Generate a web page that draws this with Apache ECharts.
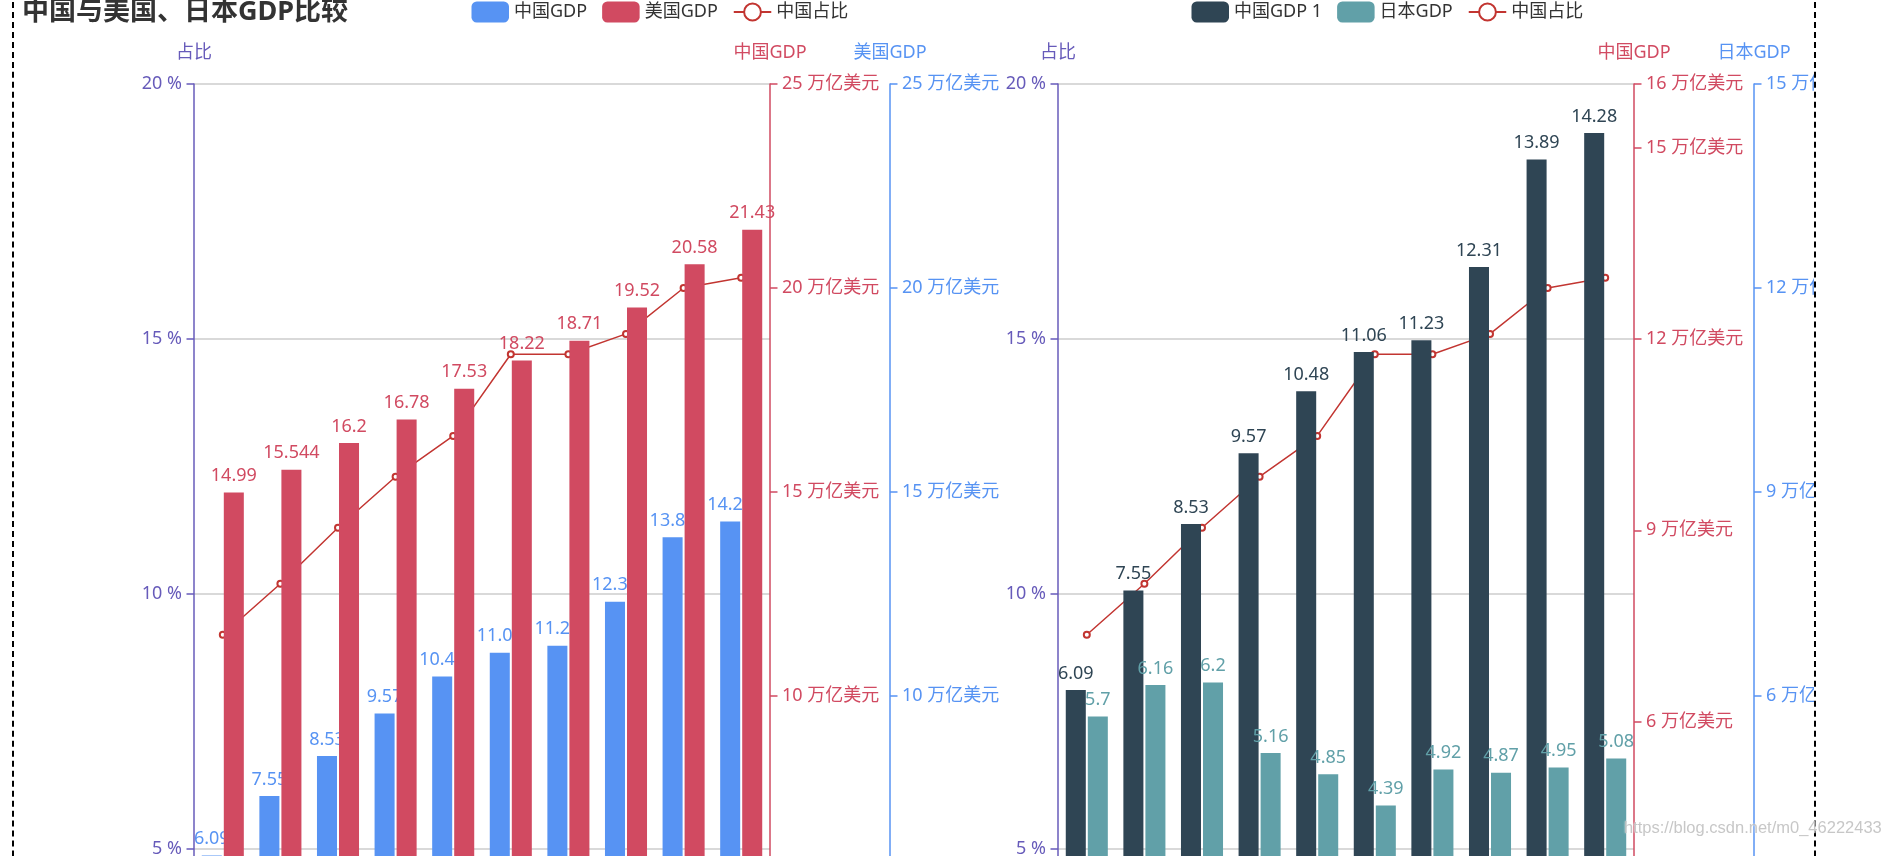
<!DOCTYPE html>
<html>
<head>
<meta charset="utf-8">
<script src="https://cdn.jsdelivr.net/npm/echarts@6/dist/echarts.min.js"></script>
<style>
html, body { margin: 0; padding: 0; width: 1883px; height: 856px; overflow: hidden; background: #fff; }
#wrap { position: absolute; left: 12px; top: -8px; border: 2px dashed #000; width: 1800px; height: 1200px; }
#main { width: 1800px; height: 1200px; }
#wm { position: absolute; left: 1624px; top: 818px; font: 16.5px "Liberation Sans", Arial, sans-serif;
      color: rgba(185,185,185,0.8); text-shadow: 0 0 2px #fff; white-space: nowrap; pointer-events: none; }
</style>
</head>
<body>
<div id="wrap"><div id="main"></div></div>
<div id="wm">https://blog.csdn.net/m0_46222433</div>
<script>
const years = ['2010', '2011', '2012', '2013', '2014', '2015', '2016', '2017', '2018', '2019'];
const chinaGDP = [6.09, 7.55, 8.53, 9.57, 10.48, 11.06, 11.23, 12.31, 13.89, 14.28];
const usaGDP = [14.99, 15.544, 16.2, 16.78, 17.53, 18.22, 18.71, 19.52, 20.58, 21.43];
const japanGDP = [5.7, 6.16, 6.2, 5.16, 4.85, 4.39, 4.92, 4.87, 4.95, 5.08];
const chinaShare = [9.2, 10.2, 11.3, 12.3, 13.1, 14.7, 14.7, 15.1, 16.0, 16.2];

const FONT = '"Noto Sans", "Noto Sans CJK SC", sans-serif';
const PURPLE = '#675bba', RED = '#d14a61', BLUE = '#5793f3';
const LINE = '#c23531', DARK = '#2f4554', TEAL = '#61a0a8';

function yAxis(c, o, fmt) {
  return Object.assign({
    type: 'value', min: 0,
    nameTextStyle: { color: c, fontSize: 18, fontFamily: FONT },
    nameGap: 22.5,
    axisLine: { show: true, lineStyle: { color: c, width: 1.5 } },
    axisTick: { show: true, length: 7.5, lineStyle: { color: c, width: 1.5 } },
    axisLabel: { color: c, fontSize: 18, margin: 12, fontFamily: FONT, formatter: fmt },
    splitLine: { show: false }
  }, o);
}

const SPLIT = { show: true, lineStyle: { color: '#ccc', width: 1.5 } };
const yAxes = [
  yAxis(PURPLE, { gridIndex: 0, name: '占比', max: 20, interval: 5, position: 'left', splitLine: SPLIT }, '{value} %'),
  yAxis(RED, { gridIndex: 0, name: '中国GDP', max: 25, interval: 5, position: 'right' }, '{value} 万亿美元'),
  yAxis(BLUE, { gridIndex: 0, name: '美国GDP', max: 25, interval: 5, position: 'right', offset: 120 }, '{value} 万亿美元'),
  yAxis(PURPLE, { gridIndex: 1, name: '占比', max: 20, interval: 5, position: 'left', splitLine: SPLIT }, '{value} %'),
  yAxis(RED, { gridIndex: 1, name: '中国GDP', max: 16, interval: 3, position: 'right' }, '{value} 万亿美元'),
  yAxis(BLUE, { gridIndex: 1, name: '日本GDP', max: 15, interval: 3, position: 'right', offset: 120 }, '{value} 万亿美元')
];

function barLabel(c) {
  return { show: true, position: 'top', distance: 7.5, color: c, fontSize: 18, fontFamily: FONT };
}
function legend(left, data) {
  return { left: left, top: 0, padding: 7.5, itemWidth: 37.5, itemHeight: 21, itemGap: 15,
    textStyle: { fontSize: 18, color: '#333', fontFamily: FONT }, data: data };
}

const chart = echarts.init(document.getElementById('main'));
chart.setOption({
  animation: false,
  textStyle: { fontFamily: FONT },
  title: { text: '中国与美国、日本GDP比较', left: 0, top: 0, padding: [5, 8],
    textStyle: { fontSize: 27, fontWeight: 'bold', color: '#333', fontFamily: FONT } },
  legend: [
    legend('25%', ['中国GDP', '美国GDP', '中国占比']),
    legend('65%', ['中国GDP 1', '日本GDP', '中国占比'])
  ],
  grid: [
    { left: '10%', right: '58%', top: 90, bottom: 90, outerBoundsMode: 'none', containLabel: false },
    { left: '58%', right: '10%', top: 90, bottom: 90, outerBoundsMode: 'none', containLabel: false }
  ],
  xAxis: [
    { type: 'category', gridIndex: 0, data: years, axisLabel: { fontSize: 18 } },
    { type: 'category', gridIndex: 1, data: years, axisLabel: { fontSize: 18 } }
  ],
  yAxis: yAxes,
  series: [
    { name: '中国GDP', type: 'bar', xAxisIndex: 0, yAxisIndex: 1, z: 2,
      itemStyle: { color: BLUE }, label: barLabel(BLUE), data: chinaGDP },
    { name: '美国GDP', type: 'bar', xAxisIndex: 0, yAxisIndex: 2, z: 3,
      itemStyle: { color: RED }, label: barLabel(RED), data: usaGDP },
    { name: '中国占比', type: 'line', xAxisIndex: 0, yAxisIndex: 0, z: 1,
      symbol: 'emptyCircle', symbolSize: 6,
      itemStyle: { color: LINE, borderWidth: 1.5 }, lineStyle: { color: LINE, width: 1.5 },
      data: chinaShare },
    { name: '中国GDP 1', type: 'bar', xAxisIndex: 1, yAxisIndex: 5, z: 2,
      itemStyle: { color: DARK }, label: barLabel(DARK), data: chinaGDP },
    { name: '日本GDP', type: 'bar', xAxisIndex: 1, yAxisIndex: 5, z: 3,
      itemStyle: { color: TEAL }, label: barLabel(TEAL), data: japanGDP },
    { name: '中国占比', type: 'line', xAxisIndex: 1, yAxisIndex: 3, z: 1,
      symbol: 'emptyCircle', symbolSize: 6,
      itemStyle: { color: LINE, borderWidth: 1.5 }, lineStyle: { color: LINE, width: 1.5 },
      data: chinaShare }
  ]
});
</script>
</body>
</html>
